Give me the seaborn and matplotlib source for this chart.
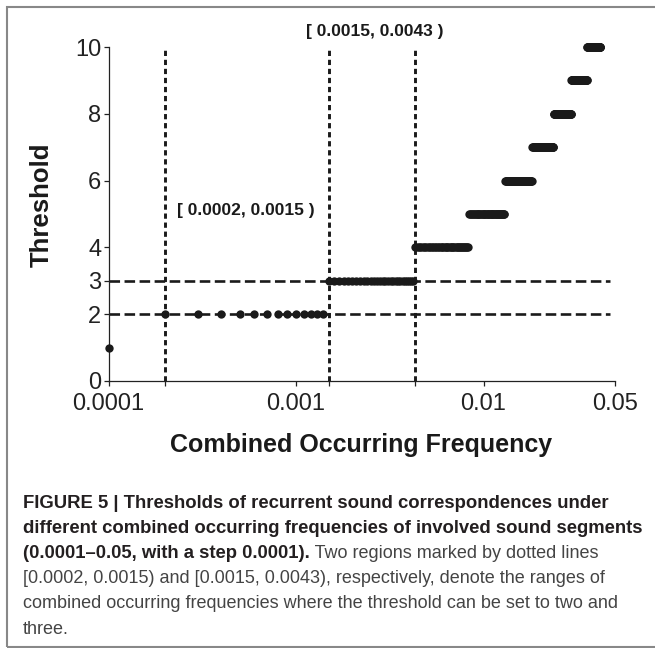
import numpy as np
import pandas as pd
import matplotlib
matplotlib.use("Agg")
import matplotlib.pyplot as plt
from matplotlib.ticker import FixedLocator, NullFormatter
from matplotlib.patches import Rectangle
import seaborn as sns

# threshold levels and the frequency range where each applies
threshold_levels = [1, 2, 3, 4, 5, 6, 7, 8, 9, 10]
range_start = [0.0001, 0.0002, 0.0015, 0.0043, 0.0084, 0.0130, 0.0182, 0.0237, 0.0294, 0.0357]
range_end = [0.0001, 0.0014, 0.0042, 0.0083, 0.0129, 0.0181, 0.0236, 0.0293, 0.0356, 0.0420]
freq_step = 0.0001  # sampling step given in the caption

region_bounds = [0.0002, 0.0015, 0.0043]   # dotted lines
threshold_marks = [2, 3]                   # dashed lines
y_ticks = [0, 2, 3, 4, 6, 8, 10]
x_major = [0.0001, 0.001, 0.01, 0.05]
x_major_labels = ["0.0001", "0.001", "0.01", "0.05"]
x_minor = [0.0002, 0.0015, 0.0043]

caption_bold = [
    "FIGURE 5 | Thresholds of recurrent sound correspondences under",
    "different combined occurring frequencies of involved sound segments",
    "(0.0001\u20130.05, with a step 0.0001).",
]
caption_regular = [
    " Two regions marked by dotted lines",
    "[0.0002, 0.0015) and [0.0015, 0.0043), respectively, denote the ranges of",
    "combined occurring frequencies where the threshold can be set to two and",
    "three.",
]

# expand each range on the 0.0001 grid
rows = []
for lvl, a, b in zip(threshold_levels, range_start, range_end):
    for k in range(int(round(a / freq_step)), int(round(b / freq_step)) + 1):
        rows.append((k * freq_step, lvl))
df = pd.DataFrame(rows, columns=["freq", "threshold"])

sns.set_theme(style="ticks")
plt.rcParams["font.family"] = ["Liberation Sans", "DejaVu Sans"]

W, H = 655, 648
fig = plt.figure(figsize=(W / 100, H / 100), dpi=100)
ax = fig.add_axes([108.5 / W, 1 - 381 / H, (614.6 - 108.5) / W, (381 - 47) / H])

ink = "#1a1a1a"
ax.vlines(region_bounds, 0, 10, colors=ink, linewidth=2.1,
          linestyles=(0, (1.8, 1.3)), zorder=2, clip_on=False)
ax.hlines(threshold_marks, 0.0001, 0.047, colors=ink, linewidth=1.9,
          linestyles=(0, (4.0, 1.7)), zorder=2, clip_on=False)

sns.scatterplot(data=df, x="freq", y="threshold", ax=ax, color=ink,
                s=36, linewidth=0, zorder=3, clip_on=False, legend=False)

ax.set_xscale("log")
ax.set_xlim(0.0001, 0.05)
ax.set_ylim(0, 10)
ax.set_yticks(y_ticks)
ax.set_yticklabels([str(v) for v in y_ticks])
ax.xaxis.set_major_locator(FixedLocator(x_major))
ax.set_xticklabels(x_major_labels)
ax.xaxis.set_minor_locator(FixedLocator(x_minor))
ax.xaxis.set_minor_formatter(NullFormatter())
ax.set_xlabel("")
ax.set_ylabel("")

sns.despine(ax=ax)
for side in ["left", "bottom"]:
    ax.spines[side].set_linewidth(0.9)
    ax.spines[side].set_color("#222222")
ax.tick_params(axis="both", which="both", direction="out", length=3.6,
               width=0.9, color="#222222", labelsize=17, labelcolor="#222222")
ax.tick_params(axis="y", pad=1.5)
ax.tick_params(axis="x", which="major", pad=5)
ax.grid(False)

ax.text(0.00054, 5.1, "[ 0.0002, 0.0015 )", ha="center", va="center",
        fontsize=12.5, fontweight="bold", color=ink)
ax.text(0.00264, 10.45, "[ 0.0015, 0.0043 )", ha="center", va="center",
        fontsize=12.5, fontweight="bold", color=ink, clip_on=False)

fig.text(42 / W, 1 - 205 / H, "Threshold", rotation=90, ha="center", va="center",
         fontsize=18.5, fontweight="bold", color=ink)
fig.text(361.5 / W, 1 - 452 / H, "Combined Occurring Frequency", ha="center",
         va="baseline", fontsize=18, fontweight="bold", color=ink)

# caption
cap_x = 23 / W
base0, gap = 507.5, 25.2
bold_col, reg_col = "#231f20", "#444444"
last_bold = None
for i, line in enumerate(caption_bold):
    last_bold = fig.text(cap_x, 1 - (base0 + i * gap) / H, line, ha="left", va="baseline",
                         fontsize=13.3, fontweight="bold", color=bold_col)
ax.annotate(caption_regular[0], xy=(1, 0), xycoords=last_bold, ha="left", va="bottom",
            fontsize=13.0, color=reg_col, annotation_clip=False)
for j, line in enumerate(caption_regular[1:]):
    fig.text(cap_x, 1 - (base0 + (j + 3) * gap) / H, line, ha="left", va="baseline",
             fontsize=13.0, color=reg_col)

# panel frame (right side runs past the image edge)
fig.add_artist(Rectangle((7 / W, 1 / H), 1.2, (647 - 7) / H, transform=fig.transFigure,
                         fill=False, edgecolor="#888888", linewidth=1.5, clip_on=False))

fig.savefig("out.png", dpi=100)
